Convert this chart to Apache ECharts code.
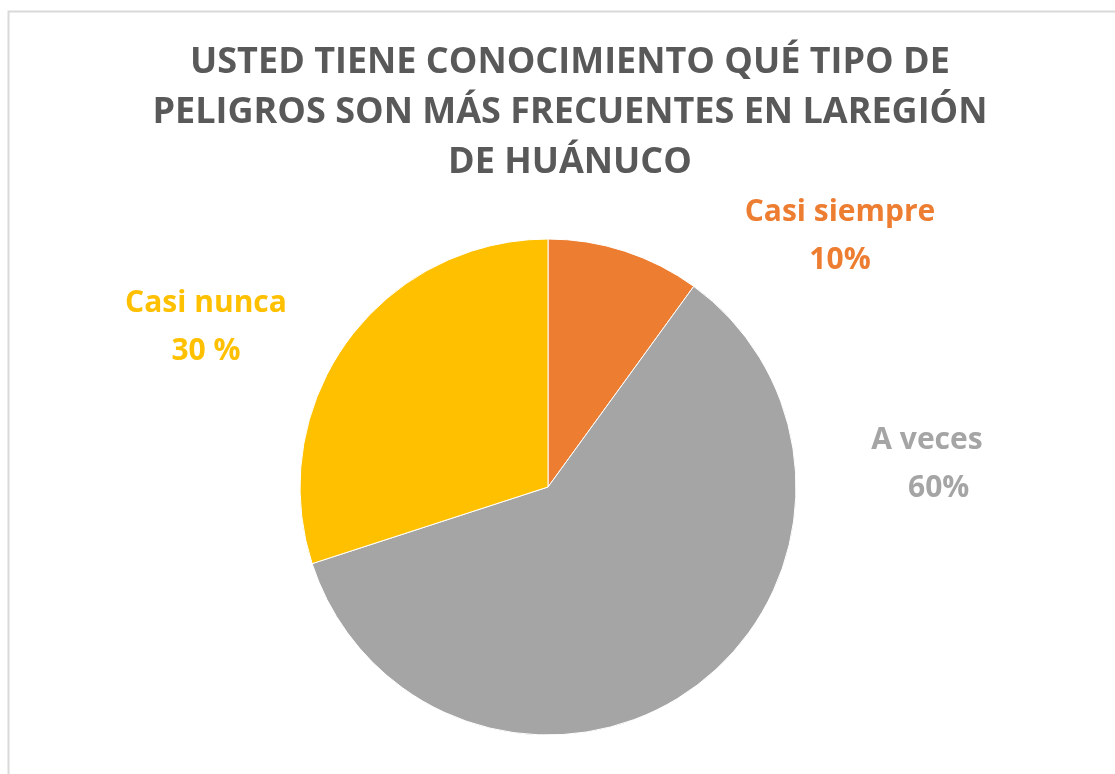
<!DOCTYPE html>
<html>
<head>
<meta charset="utf-8">
<script src="https://cdn.jsdelivr.net/npm/echarts@6/dist/echarts.min.js"></script>
<style>
  html, body { margin: 0; padding: 0; background: #fff; }
  #chart { width: 1115px; height: 774px; }
</style>
</head>
<body>
<div id="chart"></div>
<script>
const titulo = "USTED TIENE CONOCIMIENTO QUÉ TIPO DE\nPELIGROS SON MÁS FRECUENTES EN LAREGIÓN\nDE HUÁNUCO";
const categorias = ["Casi siempre", "A veces", "Casi nunca"];
const valores = [10, 60, 30];
const etiquetas = ["Casi siempre\n10%", "A veces\n   60%", "Casi nunca\n30 %"];
const colores = ["#ED7D31", "#A5A5A5", "#FFC000"];

// posiciones de las etiquetas (centro del texto)
const posEtiquetas = [[840, 236], [927, 464], [206, 327]];

const fuente = "'Open Sans', Lato, sans-serif";

let options = {
  animation: false,
  graphic: [
    {
      type: "rect",
      shape: { x: 8.5, y: 11.5, width: 1120, height: 780 },
      style: { fill: "none", stroke: "#d9d9d9", lineWidth: 2 },
      silent: true,
    },
  ],
  title: {
    text: titulo,
    left: 565,
    top: 33,
    textAlign: "center",
    textStyle: {
      fontFamily: fuente,
      fontWeight: "bold",
      fontSize: 36,
      lineHeight: 50,
      color: "#595959",
    },
  },
  series: [
    {
      type: "pie",
      center: [548, 487],
      radius: 248,
      startAngle: 90,
      clockwise: true,
      itemStyle: { borderColor: "#fff", borderWidth: 1 },
      labelLine: { show: false },
      label: {
        show: true,
        position: "outside",
        fontFamily: fuente,
        fontWeight: "bold",
        fontSize: 30,
        lineHeight: 48,
        align: "center",
        verticalAlign: "middle",
        formatter: (p) => etiquetas[p.dataIndex],
      },
      labelLayout: (params) => ({
        x: posEtiquetas[params.dataIndex][0],
        y: posEtiquetas[params.dataIndex][1],
        align: "center",
        verticalAlign: "middle",
      }),
      data: categorias.map((nombre, i) => ({
        name: nombre,
        value: valores[i],
        itemStyle: { color: colores[i] },
        label: { color: colores[i] },
      })),
    },
  ],
};

var chart = echarts.init(document.getElementById("chart"));
chart.setOption(options);
window.addEventListener("resize", function () {
  chart.resize();
});
</script>
</body>
</html>
